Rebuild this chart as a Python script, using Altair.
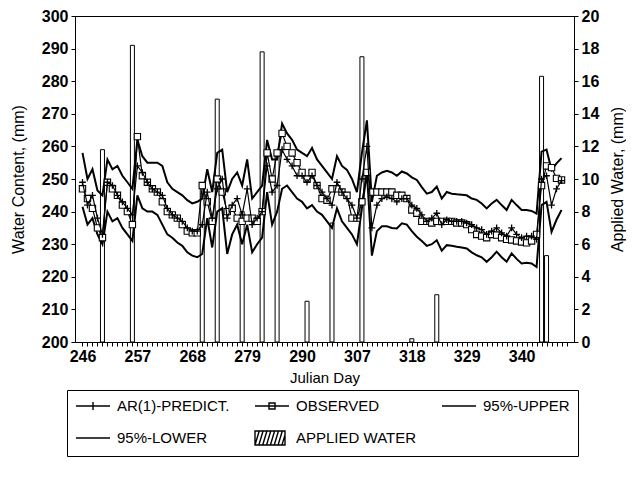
import altair as alt
import pandas as pd

# ---------------- data ----------------
day_index = list(range(97))

observed = [247, 244, 241, 235, 232, 249, 247, 245, 242, 240,
            236, 263, 251, 249, 247, 246, 243, 240, 239, 238,
            236, 234, 233.5, 233.5, 248, 243, 237, 250, 246, 240,
            241, 238, 237, 238, 238, 237, 240, 258, 250, 258,
            264, 260, 258, 255, 252, 250, 252, 248, 244, 243.5,
            247, 247, 246, 245, 238, 238, 243, 252, 246, 246,
            246, 246, 246, 245, 245, 244, 240.5, 239.5, 237, 237,
            236.5, 237, 237, 237, 237, 236.5, 236.5, 236, 234.5, 233,
            232.5, 232, 233, 232.8, 232, 231.5, 231.3, 231, 230.7, 230.4,
            231, 233, 248, 254, 253.5, 250.2, 249.7]

predicted = [249, 242, 245, 238, 233, 249, 248, 245, 243, 241,
             239, 254, 252, 249, 247, 246, 245, 241, 239, 238,
             237, 235, 234, 234, 236, 246, 238, 247, 250, 238,
             242, 244, 239, 247, 236, 238, 240, 254, 246, 248,
             259, 256, 254, 251, 251, 249, 251, 248, 246, 244,
             242, 249, 246, 244, 242, 238, 250, 260, 235, 242,
             244, 244.5, 244, 243, 244, 244, 242, 241, 239, 237,
             238, 239.5, 236, 237.5, 237, 237, 237, 236.5, 236, 235,
             234.5, 233, 234, 235, 233.5, 232.5, 235, 233, 232, 232.5,
             232.5, 231.5, 250, 251, 242, 247, 249.5]

upper = [258, 250, 253, 246.5, 245, 256, 253, 254, 251, 249,
         247, 262, 257, 255, 255, 255, 254, 249, 247, 246,
         245, 243.5, 242.5, 243, 244, 253, 246, 258, 259, 246,
         250, 252, 248, 256, 244, 246, 248, 262, 256, 256,
         267, 264, 262, 259, 258, 257, 259.5, 256, 254, 252,
         250, 257, 254, 252.8, 250, 246, 258, 268, 243, 251,
         252, 252.5, 252, 251, 252.3, 251.7, 250.5, 249.7, 247.5, 245.5,
         246, 247.7, 244, 246, 245.5, 245.3, 245.2, 245, 244, 243.6,
         242.5, 241, 242.5, 243.6, 242, 240.5, 243.6, 242, 240.5, 240.5,
         240.2, 239.4, 258.4, 259, 252.8, 254.8, 256.4]

lower = [241.5, 236, 238, 233, 230, 240, 237, 238, 235, 233,
         231, 245, 241, 240, 240, 239, 236, 233, 232, 230.5,
         229.5, 227.5, 226.5, 226, 227, 238, 229, 240, 241, 227,
         233, 236, 230, 236, 227.5, 230, 232, 246, 236, 240,
         247, 248, 246, 244, 243, 241, 242, 240, 239, 237,
         235, 241, 237, 235, 233, 230, 241, 252, 226.5, 234,
         235.5, 235.5, 235, 234.8, 236.4, 236, 234, 232.3, 231, 229.5,
         230, 231.2, 228, 229.7, 229.5, 229.2, 229, 228.7, 227.5, 226.6,
         226, 224.6, 226, 227.7, 226, 224.6, 227.2, 225.5, 224.1, 224.3,
         224.1, 223, 242, 243, 233.8, 237.5, 240.5]

water_index = [4, 10, 24, 27, 32, 36, 39, 45, 50, 56, 66, 71, 92, 93]
water_mm = [11.8, 18.2, 9.6, 14.9, 8.0, 17.8, 11.5, 2.5, 7.3, 17.5, 0.2, 2.9, 16.3, 5.3]

tick_index = [0, 11, 22, 33, 44, 55, 66, 77, 88]
tick_label = ["246", "257", "268", "279", "290", "307", "318", "329", "340"]

# legend entries in the order Vega fills its 3-column, 2-row grid (column by column)
legend_names = ["AR(1)-PREDICT.", "95%-LOWER", "OBSERVED", "APPLIED WATER", "95%-UPPER"]

# ---------------- styling ----------------
FONT = "Liberation Sans"
# symbol unit = 7 px (symbolSize 196); paths start at x=-1 and run ~34 px to the right
line_path = "M-1,0H3.857"
legend_paths = [
    line_path + "M1.43,-0.57V0.57",
    line_path,
    line_path + "M1,-0.43H1.86V0.43H1Z",
    "M-1,-1H3.286V1H-1ZM-1,1L-0.4,-1M-0.45,1L0.15,-1M0.1,1L0.7,-1M0.65,1L1.25,-1"
    "M1.2,1L1.8,-1M1.75,1L2.35,-1M2.3,1L2.9,-1M2.85,1L3.286,-0.45",
    line_path,
]

lines_df = pd.DataFrame({"i": day_index, "obs": observed, "pred": predicted,
                         "up": upper, "lo": lower})
bars_df = pd.DataFrame({"i": water_index, "w": water_mm})
leg_df = pd.DataFrame({"series": legend_names})

label_expr = "".join(f"datum.value == {i} ? '{t}' : " for i, t in zip(tick_index, tick_label)) + "''"

x_enc = alt.X(
    "i:Q",
    scale=alt.Scale(domain=[-0.5, 97.5], nice=False, zero=False),
    axis=alt.Axis(title="Julian Day", values=list(range(98)), labelExpr=label_expr,
                  tickSize=4, labelPadding=2, labelOverlap=False, labelFlush=False,
                  titlePadding=6, titleFontSize=15),
)

left_scale = alt.Scale(domain=[200, 300], nice=False, zero=False)
left_axis = alt.Axis(title="Water Content, (mm)", orient="left",
                     values=list(range(200, 301, 10)), tickSize=4, labelPadding=3,
                     titlePadding=15)


def ly(field):
    return alt.Y(f"{field}:Q", scale=left_scale, axis=left_axis)


base = alt.Chart(lines_df)
up_line = base.mark_line(color="black", strokeWidth=2).encode(x=x_enc, y=ly("up"))
lo_line = base.mark_line(color="black", strokeWidth=2).encode(x=x_enc, y=ly("lo"))
obs_line = base.mark_line(color="black", strokeWidth=1.2).encode(x=x_enc, y=ly("obs"))
obs_pts = base.mark_point(shape="square", size=40, filled=True, fill="white",
                          stroke="black", strokeWidth=1.1, opacity=1).encode(x=x_enc, y=ly("obs"))
pred_line = base.mark_line(color="black", strokeWidth=1.2).encode(x=x_enc, y=ly("pred"))
pred_pts = base.mark_point(shape="M-1,0H1M0,-1V1", size=45, color="black",
                           strokeWidth=1.3, opacity=1).encode(x=x_enc, y=ly("pred"))

legend_layer = alt.Chart(leg_df).mark_point(opacity=0).encode(
    x=alt.value(0), y=alt.value(0),
    shape=alt.Shape(
        "series:N",
        scale=alt.Scale(domain=legend_names, range=legend_paths),
        legend=alt.Legend(title=None, orient="none", legendX=-8, legendY=374,
                          columns=3, symbolSize=196, symbolStrokeWidth=1.4,
                          symbolStrokeColor="black", symbolFillColor="transparent",
                          symbolOpacity=1, labelFont=FONT, labelFontSize=15,
                          labelColor="black", labelOffset=26, columnPadding=22,
                          rowPadding=14, padding=8, strokeColor="black",
                          labelLimit=300),
    ),
)

left_layers = alt.layer(up_line, lo_line, obs_line, obs_pts, pred_line, pred_pts, legend_layer)

bar_layer = alt.Chart(bars_df).mark_bar(size=4, fill="white", stroke="black",
                                        strokeWidth=1).encode(
    x=x_enc,
    y=alt.Y("w:Q", scale=alt.Scale(domain=[0, 20], nice=False),
            axis=alt.Axis(orient="right", title="Applied Water, (mm)",
                          values=list(range(0, 21, 2)), titleAngle=270,
                          tickSize=4, labelPadding=3, titlePadding=27)),
)

chart = (
    alt.layer(bar_layer, left_layers)
    .resolve_scale(y="independent")
    .properties(width=499, height=326,
                padding={"left": 2, "top": 0, "right": 0, "bottom": 0})
    .configure_view(stroke="black", strokeWidth=1)
    .configure_axis(domainColor="black", tickColor="black", labelColor="black",
                    titleColor="black", labelFont=FONT, titleFont=FONT,
                    labelFontSize=16, labelFontWeight="bold", titleFontSize=16,
                    titleFontWeight="normal", grid=False, domainWidth=1)
)

chart.save("out.html", embed_options={"renderer": "svg", "actions": False})
